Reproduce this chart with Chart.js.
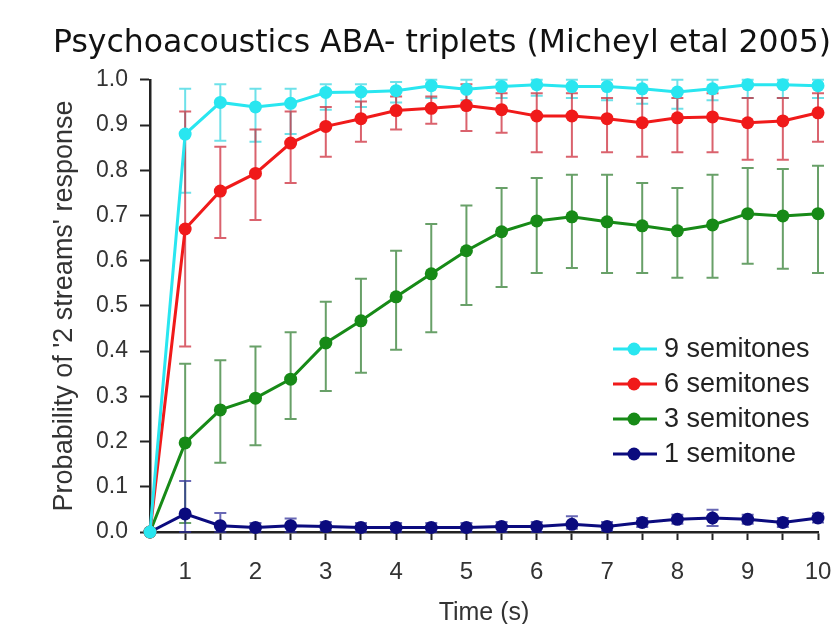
<!DOCTYPE html>
<html>
<head>
<meta charset="utf-8">
<script src="https://cdn.jsdelivr.net/npm/chart.js@4.4.1/dist/chart.umd.min.js"></script>
<style>
  html, body { margin: 0; padding: 0; background: #fff; }
  #wrap { width: 837px; height: 624px; }
</style>
</head>
<body>
<div id="wrap"><canvas id="chart" width="837" height="624"></canvas></div>
<script>
// time points (s)
const times = [0.5, 1, 1.5, 2, 2.5, 3, 3.5, 4, 4.5, 5, 5.5, 6, 6.5, 7, 7.5, 8, 8.5, 9, 9.5, 10];

// 9 semitones
const semi9 = [0, 0.88, 0.95, 0.94, 0.948, 0.972, 0.973, 0.976, 0.987, 0.979, 0.985, 0.989, 0.985, 0.985, 0.98, 0.973, 0.98, 0.989, 0.989, 0.987];
const semi9Lo = [0, 0.75, 0.865, 0.863, 0.88, 0.934, 0.94, 0.95, 0.96, 0.955, 0.96, 0.965, 0.96, 0.955, 0.947, 0.936, 0.955, 0.96, 0.96, 0.96];
const semi9Hi = [0, 0.98, 0.99, 0.98, 0.98, 0.99, 0.99, 0.995, 1, 1, 1, 1, 1, 1, 1, 1, 1, 1, 1, 1];

// 6 semitones
const semi6 = [0, 0.67, 0.754, 0.793, 0.86, 0.897, 0.914, 0.932, 0.937, 0.943, 0.934, 0.92, 0.92, 0.914, 0.905, 0.916, 0.918, 0.905, 0.909, 0.927];
const semi6Lo = [0, 0.41, 0.65, 0.69, 0.772, 0.83, 0.863, 0.89, 0.903, 0.887, 0.883, 0.84, 0.83, 0.84, 0.83, 0.84, 0.84, 0.823, 0.823, 0.863];
const semi6Hi = [0, 0.93, 0.852, 0.89, 0.93, 0.94, 0.952, 0.963, 0.963, 0.99, 0.97, 0.97, 0.97, 0.96, 0.96, 0.96, 0.97, 0.96, 0.96, 0.97];

// 3 semitones
const semi3 = [0, 0.197, 0.27, 0.296, 0.338, 0.418, 0.467, 0.52, 0.571, 0.622, 0.664, 0.688, 0.697, 0.686, 0.677, 0.666, 0.679, 0.704, 0.699, 0.704];
const semi3Lo = [0, 0.02, 0.153, 0.192, 0.25, 0.312, 0.352, 0.403, 0.442, 0.502, 0.542, 0.573, 0.584, 0.573, 0.573, 0.562, 0.562, 0.593, 0.582, 0.573];
const semi3Hi = [0, 0.372, 0.38, 0.41, 0.442, 0.509, 0.56, 0.622, 0.681, 0.722, 0.761, 0.783, 0.79, 0.79, 0.772, 0.761, 0.79, 0.805, 0.803, 0.81];

// 1 semitone
const semi1 = [0, 0.04, 0.014, 0.01, 0.014, 0.012, 0.01, 0.01, 0.01, 0.01, 0.012, 0.012, 0.017, 0.012, 0.021, 0.028, 0.031, 0.028, 0.021, 0.031];
const semi1Lo = [0, 0, 0, 0, 0, 0.002, 0, 0, 0, 0, 0, 0, 0.007, 0.002, 0.011, 0.018, 0.013, 0.018, 0.011, 0.021];
const semi1Hi = [0, 0.113, 0.042, 0.02, 0.03, 0.022, 0.02, 0.02, 0.02, 0.02, 0.022, 0.022, 0.035, 0.022, 0.031, 0.038, 0.049, 0.038, 0.031, 0.041];

const yTicks = [0, 0.1, 0.2, 0.3, 0.4, 0.5, 0.6, 0.7, 0.8, 0.9, 1.0];

function toPoints(values) {
    return values.map((v, i) => ({ x: times[i], y: v }));
}

function series(label, values, lo, hi, color, barColor) {
    return {
        label: label,
        data: toPoints(values),
        errLo: lo,
        errHi: hi,
        barColor: barColor,
        borderColor: color,
        backgroundColor: color,
        borderWidth: 3,
        pointRadius: 6.5,
        pointHoverRadius: 6.5,
        pointBorderWidth: 0,
        tension: 0,
        clip: false
    };
}

// error bars drawn under the lines
const errorBars = {
    id: 'errorBars',
    beforeDatasetsDraw(chart) {
        const ctx = chart.ctx;
        const xs = chart.scales.x;
        const ys = chart.scales.y;
        ctx.save();
        chart.data.datasets.forEach(ds => {
            ctx.strokeStyle = ds.barColor;
            ctx.lineWidth = 2;
            ds.data.forEach((p, i) => {
                if (ds.errHi[i] === ds.errLo[i]) return;
                const px = xs.getPixelForValue(p.x);
                const top = ys.getPixelForValue(ds.errHi[i]);
                const bot = ys.getPixelForValue(ds.errLo[i]);
                ctx.beginPath();
                ctx.moveTo(px, top); ctx.lineTo(px, bot);
                ctx.moveTo(px - 6, top); ctx.lineTo(px + 6, top);
                ctx.moveTo(px - 6, bot); ctx.lineTo(px + 6, bot);
                ctx.stroke();
            });
        });
        ctx.restore();
    }
};

// legend with line + marker, inside the plot
const lineLegend = {
    id: 'lineLegend',
    afterDraw(chart) {
        const ctx = chart.ctx;
        ctx.save();
        ctx.font = '27px "Liberation Sans", Arial, sans-serif';
        ctx.textBaseline = 'middle';
        chart.data.datasets.forEach((ds, i) => {
            const y = 349 + i * 35;
            ctx.strokeStyle = ds.borderColor;
            ctx.lineWidth = 3;
            ctx.beginPath();
            ctx.moveTo(613, y); ctx.lineTo(657, y);
            ctx.stroke();
            ctx.fillStyle = ds.borderColor;
            ctx.beginPath();
            ctx.arc(634, y, 6.5, 0, Math.PI * 2);
            ctx.fill();
            ctx.fillStyle = '#222';
            ctx.fillText(ds.label, 664, y + 1);
        });
        ctx.restore();
    }
};

const axisColor = '#222';

new Chart(document.getElementById('chart'), {
    type: 'line',
    data: {
        datasets: [
            series('9 semitones', semi9, semi9Lo, semi9Hi, '#29e6f0', 'rgba(60, 215, 225, 0.75)'),
            series('6 semitones', semi6, semi6Lo, semi6Hi, '#f01a1a', 'rgba(205, 45, 60, 0.75)'),
            series('3 semitones', semi3, semi3Lo, semi3Hi, '#178a17', 'rgba(40, 120, 40, 0.7)'),
            series('1 semitone', semi1, semi1Lo, semi1Hi, '#0b0b7e', 'rgba(40, 40, 150, 0.7)')
        ]
    },
    plugins: [errorBars, lineLegend],
    options: {
        responsive: false,
        animation: false,
        layout: { padding: { left: 0, right: 6, top: 0, bottom: 0 } },
        plugins: {
            legend: { display: false },
            tooltip: { enabled: false },
            title: {
                display: true,
                align: 'end',
                text: 'Psychoacoustics ABA- triplets (Micheyl etal 2005)',
                color: '#111',
                font: { family: '"DejaVu Sans", sans-serif', size: 31.5, weight: 'normal', lineHeight: 1.2 },
                padding: { top: 25, bottom: 17 }
            }
        },
        scales: {
            x: {
                type: 'linear',
                min: 0.5,
                max: 10,
                afterFit: s => { s.height = 92; s.paddingRight = 19; s.paddingLeft = 0; },
                grid: {
                    display: true,
                    drawOnChartArea: false,
                    drawTicks: true,
                    tickLength: 8,
                    tickWidth: 2,
                    tickColor: c => (c.tick && c.tick.value === 0.5 ? 'rgba(0,0,0,0)' : axisColor)
                },
                border: { display: true, color: axisColor, width: 2.5 },
                ticks: {
                    stepSize: 0.5,
                    autoSkip: false,
                    maxRotation: 0,
                    padding: 18,
                    color: '#333',
                    font: { family: '"Liberation Sans", Arial, sans-serif', size: 24 },
                    callback: v => (Number.isInteger(v) ? String(v) : '')
                },
                title: {
                    display: true,
                    text: 'Time (s)',
                    color: '#333',
                    font: { family: '"Liberation Sans", Arial, sans-serif', size: 25, lineHeight: 0.9 },
                    padding: { top: 0, bottom: 0 }
                }
            },
            y: {
                min: 0,
                max: 1,
                afterFit: s => { s.width = 150; },
                afterBuildTicks: s => { s.ticks = yTicks.map(v => ({ value: v })); },
                grid: {
                    display: true,
                    drawOnChartArea: false,
                    drawTicks: true,
                    tickLength: 10,
                    tickWidth: 2,
                    tickColor: axisColor
                },
                border: { display: true, color: axisColor, width: 2.5 },
                ticks: {
                    padding: 12,
                    color: '#333',
                    font: { family: '"Liberation Sans", Arial, sans-serif', size: 23 },
                    callback: v => v.toFixed(1)
                },
                title: {
                    display: true,
                    text: "Probability of '2 streams' response",
                    color: '#333',
                    font: { family: '"Liberation Sans", Arial, sans-serif', size: 27, lineHeight: 1.2 },
                    padding: { top: 48, bottom: 0 }
                }
            }
        }
    }
});
</script>
</body>
</html>
